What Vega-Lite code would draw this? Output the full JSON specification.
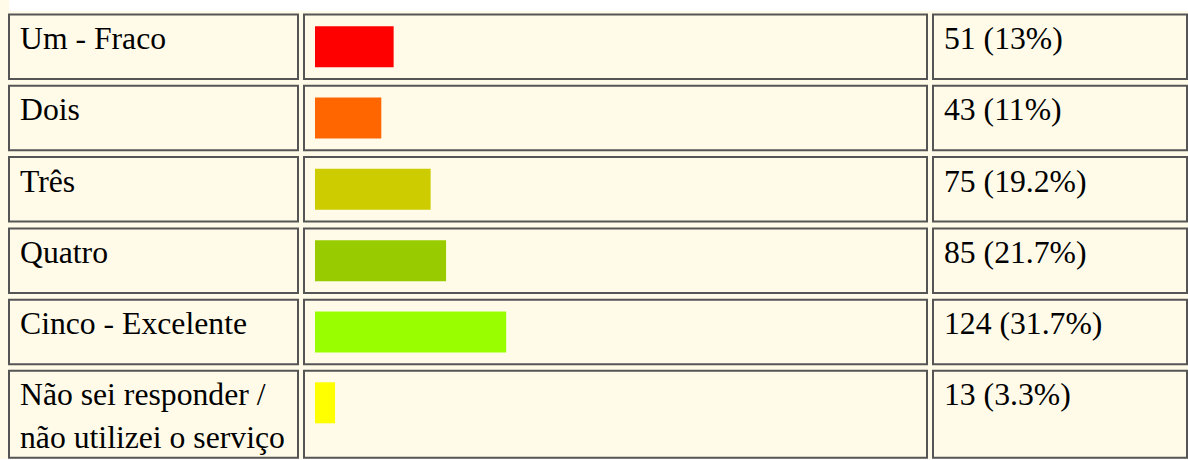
{
  "$schema": "https://vega.github.io/schema/vega-lite/v6.json",
  "background": "#FFFBE8",
  "padding": {"left": 8, "top": 0, "right": 0, "bottom": 0},
  "datasets": {
    "rows": [
      {"rank": 1, "label": "Um - Fraco", "count": 51, "result": "51 (13%)"},
      {"rank": 2, "label": "Dois", "count": 43, "result": "43 (11%)"},
      {"rank": 3, "label": "Três", "count": 75, "result": "75 (19.2%)"},
      {"rank": 4, "label": "Quatro", "count": 85, "result": "85 (21.7%)"},
      {"rank": 5, "label": "Cinco - Excelente", "count": 124, "result": "124 (31.7%)"},
      {"rank": 6, "label": "Não sei responder /\nnão utilizei o serviço", "count": 13, "result": "13 (3.3%)"}
    ]
  },
  "config": {
    "view": {"fill": "#FFFBE8", "stroke": "#555555", "strokeWidth": 2},
    "text": {"font": "Liberation Serif", "fontSize": 31.7, "color": "#000000"},
    "concat": {"spacing": 4}
  },
  "spacing": 2.5,
  "vconcat": [
    {
      "width": 1180,
      "height": 11,
      "view": {"fill": "#FFFFFF", "stroke": null},
      "data": {"values": []},
      "mark": {"type": "text"},
      "encoding": {}
    },
    {
      "spacing": 4.3,
      "vconcat": [
        {
          "spacing": 4,
          "hconcat": [
            {
              "data": {"name": "rows"},
              "transform": [{"filter": "datum.rank < 6"}],
              "facet": {"row": {"field": "label", "type": "nominal", "sort": {"field": "rank", "op": "min"}, "header": null}},
              "spacing": {"row": 4.3},
              "spec": {
                "width": 289,
                "height": 64.5,
                "view": {"fill": "#FFFBE8", "stroke": "#555555", "strokeWidth": 2},
                "mark": {"type": "text", "align": "left", "baseline": "alphabetic", "x": 11, "y": 34.5},
                "encoding": {"text": {"field": "label", "type": "nominal"}}
              }
            },
            {
              "data": {"name": "rows"},
              "transform": [{"filter": "datum.rank < 6"}],
              "facet": {"row": {"field": "label", "type": "nominal", "sort": {"field": "rank", "op": "min"}, "header": null}},
              "spacing": {"row": 4.3},
              "spec": {
                "width": 623,
                "height": 64.5,
                "mark": {"type": "bar", "size": 41},
                "encoding": {
                  "x": {"field": "count", "type": "quantitative", "scale": {"domain": [0, 396.9], "range": [11, 623], "zero": true, "nice": false}, "axis": null},
                  "color": {"field": "rank", "type": "ordinal", "scale": {"domain": [1, 2, 3, 4, 5, 6], "range": ["#FF0000", "#FF6600", "#CCCC00", "#99CC00", "#99FF00", "#FFFF00"]}, "legend": null}
                }
              }
            },
            {
              "data": {"name": "rows"},
              "transform": [{"filter": "datum.rank < 6"}],
              "facet": {"row": {"field": "label", "type": "nominal", "sort": {"field": "rank", "op": "min"}, "header": null}},
              "spacing": {"row": 4.3},
              "spec": {
                "width": 254,
                "height": 64.5,
                "view": {"fill": "#FFFBE8", "stroke": "#555555", "strokeWidth": 2},
                "mark": {"type": "text", "align": "left", "baseline": "alphabetic", "x": 11, "y": 34.5},
                "encoding": {"text": {"field": "result", "type": "nominal"}}
              }
            }
          ]
        },
        {
          "spacing": 4,
          "hconcat": [
            {
              "data": {"name": "rows"},
              "transform": [{"filter": "datum.rank == 6"}],
              "width": 289,
              "height": 87,
              "view": {"fill": "#FFFBE8", "stroke": "#555555", "strokeWidth": 2},
              "mark": {"type": "text", "align": "left", "baseline": "alphabetic", "x": 11, "y": 34.5, "lineBreak": "\n", "lineHeight": 43},
              "encoding": {"text": {"field": "label", "type": "nominal"}}
            },
            {
              "data": {"name": "rows"},
              "transform": [{"filter": "datum.rank == 6"}],
              "width": 623,
              "height": 87,
              "mark": {"type": "bar", "size": 41, "yOffset": -11.5},
              "encoding": {
                "x": {"field": "count", "type": "quantitative", "scale": {"domain": [0, 396.9], "range": [11, 623], "zero": true, "nice": false}, "axis": null},
                "color": {"field": "rank", "type": "ordinal", "scale": {"domain": [1, 2, 3, 4, 5, 6], "range": ["#FF0000", "#FF6600", "#CCCC00", "#99CC00", "#99FF00", "#FFFF00"]}, "legend": null}
              }
            },
            {
              "data": {"name": "rows"},
              "transform": [{"filter": "datum.rank == 6"}],
              "width": 254,
              "height": 87,
              "view": {"fill": "#FFFBE8", "stroke": "#555555", "strokeWidth": 2},
              "mark": {"type": "text", "align": "left", "baseline": "alphabetic", "x": 11, "y": 34.5},
              "encoding": {"text": {"field": "result", "type": "nominal"}}
            }
          ]
        }
      ]
    }
  ]
}
